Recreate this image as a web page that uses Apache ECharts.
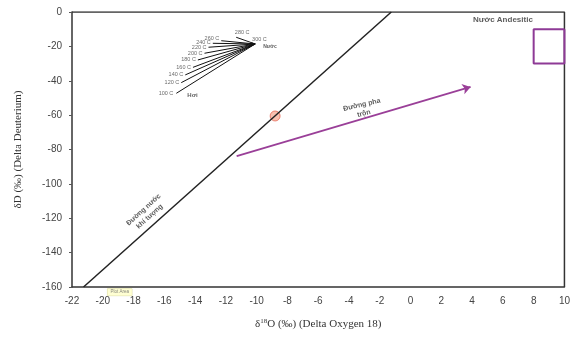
<!DOCTYPE html>
<html lang="vi">
<head>
    <meta charset="UTF-8">
    <title>ECharts</title>
    <script src="https://cdn.jsdelivr.net/npm/echarts@6/dist/echarts.min.js"></script>
    <style type="text/css">
        *{margin: 0;padding: 0;border: none}
        html,body{width: 100%;height: 100%;overflow: hidden;background: #fff}
        #main{width: 573px;height: 338px}
    </style>
</head>
<body>
<div id="main"></div>
<script type="text/javascript">
    // truc
    var xTicks = [-22, 10, 2];
    var yTicks = [-160, 0, 20];

    // duong nuoc khi tuong (dD = 8 d18O + 10)
    var meteoricX = [-21.25, -1.25];
    var meteoricY = [-160, 0];

    // cac duong hoi - nuoc theo nhiet do
    var fanTemps = ['100 C', '120 C', '140 C', '160 C', '180 C', '200 C', '220 C', '240 C', '260 C', '280 C', '300 C'];
    var vaporX = [-15.22, -14.9, -14.64, -14.14, -13.82, -13.39, -13.13, -12.85, -12.3, -11.33, -10.34];
    var vaporY = [-47.3, -41.1, -36.6, -32.2, -27.9, -24.0, -20.5, -18.2, -16.7, -14.7, -17.9];
    var waterPoint = [-10.1, -18.6];

    // mau
    var samplePoint = [-8.8, -60.5];

    // duong pha tron
    var mixingX = [-11.3, 3.9];
    var mixingY = [-83.8, -43.6];

    // nuoc andesitic
    var boxX = [8, 10];
    var boxY = [-30, -10];

    var myChart = echarts.init(document.getElementById('main'));

    var fanLines = [];
    var fanLabels = [];
    var labelPos = ['left', 'left', 'left', 'left', 'left', 'left', 'left', 'left', 'left', 'top', 'top'];
    var labelOff = [[-1, 0], [0, 0], [0, 0], [0, 0], [0, 0], [0, 0], [0, 0], [0, -1], [0, -2], [6, 0], [8, 2]];
    for (var i = 0; i < fanTemps.length; i++) {
        fanLines.push({coords: [[vaporX[i], vaporY[i]], waterPoint]});
        fanLabels.push({
            value: [vaporX[i], vaporY[i]],
            label: {show: true, formatter: fanTemps[i], position: labelPos[i], offset: labelOff[i], distance: 2}
        });
    }

    var font = 'Liberation Sans';

    var option = {
        animation: false,
        grid: {left: 72, right: 7, top: 12, bottom: 51},
        xAxis: {
            type: 'value',
            min: xTicks[0], max: xTicks[1], interval: xTicks[2],
            name: '{a|δ}{s|18}{a|O (‰) (Delta Oxygen 18)}',
            nameLocation: 'middle',
            nameGap: 31,
            nameTextStyle: {
                rich: {
                    a: {fontFamily: 'Liberation Serif', fontSize: 11, color: '#333'},
                    s: {fontFamily: 'Liberation Serif', fontSize: 7, color: '#333', verticalAlign: 'top', padding: [0, 0, 5, 0]}
                }
            },
            axisLine: {onZero: false, lineStyle: {color: '#333', width: 1.5}},
            axisTick: {show: false},
            splitLine: {show: false},
            axisLabel: {color: '#444', fontFamily: font, fontSize: 10, margin: 9}
        },
        yAxis: {
            type: 'value',
            min: yTicks[0], max: yTicks[1], interval: yTicks[2],
            name: 'δD (‰) (Delta Deuterium)',
            nameLocation: 'middle',
            nameGap: 48,
            nameTextStyle: {fontFamily: 'Liberation Serif', fontSize: 11, color: '#333'},
            axisLine: {onZero: false, show: true, lineStyle: {color: '#333', width: 1.5}},
            axisTick: {show: true, length: 3, lineStyle: {color: '#555'}},
            splitLine: {show: false},
            axisLabel: {color: '#444', fontFamily: font, fontSize: 10, margin: 10}
        },
        series: [
            {
                // khung ben tren va ben phai
                type: 'line',
                data: [[xTicks[0], yTicks[1]], [xTicks[1], yTicks[1]], [xTicks[1], yTicks[0]]],
                symbol: 'none',
                silent: true,
                lineStyle: {color: '#333', width: 1.5}
            },
            {
                type: 'line',
                data: [[meteoricX[0], meteoricY[0]], [meteoricX[1], meteoricY[1]]],
                symbol: 'none',
                lineStyle: {color: '#222', width: 1.5}
            },
            {
                type: 'lines',
                coordinateSystem: 'cartesian2d',
                data: fanLines,
                lineStyle: {color: '#111', width: 1, opacity: 1}
            },
            {
                type: 'scatter',
                data: fanLabels,
                symbolSize: 0,
                label: {color: '#444', fontFamily: font, fontSize: 5.5}
            },
            {
                type: 'lines',
                coordinateSystem: 'cartesian2d',
                data: [{coords: [[mixingX[0], mixingY[0]], [mixingX[1], mixingY[1]]]}],
                symbol: ['none', 'arrow'],
                symbolSize: 8,
                lineStyle: {color: '#9a3f98', width: 1.8, opacity: 1}
            },
            {
                type: 'line',
                data: [[boxX[1], boxY[1]], [boxX[0], boxY[1]], [boxX[0], boxY[0]], [boxX[1], boxY[0]], [boxX[1], boxY[1]]],
                symbol: 'none',
                lineStyle: {color: '#8e3a96', width: 2}
            },
            {
                type: 'scatter',
                data: [samplePoint],
                symbolSize: 10,
                itemStyle: {
                    color: '#f6b09c',
                    borderColor: '#e0503a',
                    borderWidth: 0.8,
                    decal: {symbol: 'rect', symbolSize: 1, dashArrayX: [1, 0], dashArrayY: [1, 2], rotation: -0.7, color: '#e04a34'}
                }
            },
            {
                // chu thich
                type: 'scatter',
                symbolSize: 0,
                silent: true,
                clip: false,
                label: {show: true, fontFamily: font, fontWeight: 'bold', color: '#333'},
                data: [
                    {value: waterPoint, label: {formatter: 'Nước', fontSize: 5, position: 'right', offset: [3, 3]}},
                    {value: [vaporX[0], vaporY[0]], label: {formatter: 'Hơi', fontSize: 6, position: 'right', offset: [6, 2]}},
                    {value: [6.0, -4.8], label: {formatter: 'Nước Andesitic', fontSize: 8, position: 'inside'}},
                    {value: [-3.1, -56.5], label: {formatter: 'Đường pha\ntrộn', fontSize: 7, lineHeight: 9, rotate: 13, position: 'inside'}},
                    {value: [-17.15, -117], label: {formatter: 'Đường nước\nkhí tượng', fontSize: 7, lineHeight: 9, rotate: 42, position: 'inside'}},
                    {value: [-18.9, -163], label: {formatter: 'Plot Area', fontSize: 4.5, fontWeight: 'normal', color: '#666',
                        backgroundColor: '#ffffc8', borderColor: '#d8d8a0', borderWidth: 0.5, padding: [1, 3], position: 'inside'}}
                ]
            }
        ]
    };
    myChart.setOption(option);
</script>
</body>
</html>
